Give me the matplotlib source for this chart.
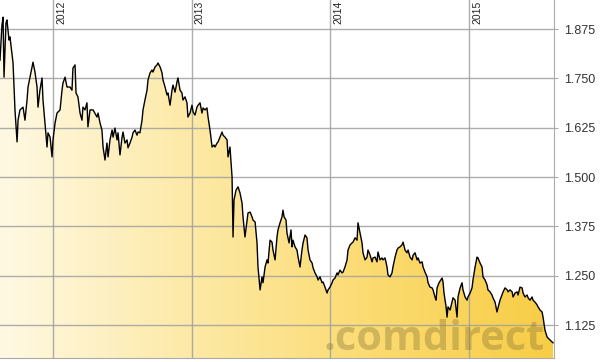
import matplotlib
matplotlib.use("Agg")
import matplotlib.pyplot as plt
import numpy as np
from matplotlib.colors import LinearSegmentedColormap

# Kursverlauf (Datum als Dezimaljahr, Kurs)
dates = [
    2011.618, 2011.632, 2011.640, 2011.647, 2011.661, 2011.668, 2011.683, 2011.690, 2011.705, 2011.712,
    2011.726, 2011.741, 2011.748, 2011.762, 2011.784, 2011.798, 2011.813, 2011.820, 2011.849, 2011.856,
    2011.870, 2011.885, 2011.892, 2011.906, 2011.921, 2011.928, 2011.942, 2011.957, 2011.964, 2011.979,
    2011.993, 2012.000, 2012.015, 2012.029, 2012.051, 2012.065, 2012.072, 2012.087, 2012.101, 2012.123,
    2012.137, 2012.144, 2012.159, 2012.166, 2012.180, 2012.195, 2012.209, 2012.216, 2012.231, 2012.245,
    2012.252, 2012.267, 2012.289, 2012.317, 2012.325, 2012.339, 2012.353, 2012.361, 2012.375, 2012.389,
    2012.397, 2012.411, 2012.426, 2012.433, 2012.447, 2012.462, 2012.469, 2012.483, 2012.498, 2012.505,
    2012.519, 2012.534, 2012.541, 2012.555, 2012.570, 2012.577, 2012.591, 2012.606, 2012.613, 2012.627,
    2012.642, 2012.649, 2012.663, 2012.678, 2012.685, 2012.700, 2012.714, 2012.721, 2012.736, 2012.750,
    2012.757, 2012.772, 2012.786, 2012.793, 2012.808, 2012.822, 2012.829, 2012.844, 2012.858, 2012.865,
    2012.880, 2012.894, 2012.901, 2012.916, 2012.930, 2012.937, 2012.952, 2012.966, 2012.973, 2012.988,
    2013.002, 2013.010, 2013.024, 2013.038, 2013.046, 2013.060, 2013.074, 2013.082, 2013.096, 2013.110,
    2013.118, 2013.132, 2013.147, 2013.161, 2013.168, 2013.183, 2013.190, 2013.204, 2013.219, 2013.226,
    2013.240, 2013.255, 2013.262, 2013.276, 2013.291, 2013.298, 2013.305, 2013.320, 2013.334, 2013.348,
    2013.363, 2013.370, 2013.384, 2013.399, 2013.406, 2013.421, 2013.435, 2013.442, 2013.457, 2013.471,
    2013.478, 2013.493, 2013.507, 2013.514, 2013.529, 2013.543, 2013.550, 2013.565, 2013.579, 2013.586,
    2013.601, 2013.615, 2013.622, 2013.637, 2013.651, 2013.658, 2013.666, 2013.680, 2013.687, 2013.702,
    2013.716, 2013.723, 2013.730, 2013.745, 2013.759, 2013.767, 2013.781, 2013.795, 2013.803, 2013.817,
    2013.831, 2013.839, 2013.853, 2013.868, 2013.875, 2013.889, 2013.904, 2013.911, 2013.925, 2013.940,
    2013.947, 2013.961, 2013.976, 2013.983, 2013.997, 2014.012, 2014.019, 2014.033, 2014.048, 2014.055,
    2014.069, 2014.084, 2014.091, 2014.105, 2014.120, 2014.127, 2014.142, 2014.156, 2014.163, 2014.178,
    2014.192, 2014.199, 2014.214, 2014.228, 2014.235, 2014.250, 2014.264, 2014.271, 2014.286, 2014.300,
    2014.307, 2014.322, 2014.336, 2014.343, 2014.358, 2014.372, 2014.379, 2014.394, 2014.408, 2014.415,
    2014.430, 2014.444, 2014.451, 2014.466, 2014.480, 2014.488, 2014.502, 2014.516, 2014.524, 2014.538,
    2014.552, 2014.560, 2014.574, 2014.589, 2014.596, 2014.610, 2014.625, 2014.632, 2014.646, 2014.661,
    2014.668, 2014.682, 2014.697, 2014.704, 2014.718, 2014.733, 2014.740, 2014.754, 2014.762, 2014.769,
    2014.783, 2014.805, 2014.812, 2014.819, 2014.834, 2014.841, 2014.848, 2014.863, 2014.877, 2014.884,
    2014.899, 2014.913, 2014.920, 2014.935, 2014.949, 2014.956, 2014.971, 2014.985, 2014.992, 2015.007,
    2015.021, 2015.028, 2015.043, 2015.057, 2015.064, 2015.079, 2015.093, 2015.100, 2015.115, 2015.129,
    2015.136, 2015.151, 2015.165, 2015.172, 2015.187, 2015.201, 2015.208, 2015.223, 2015.237, 2015.245,
    2015.259, 2015.274, 2015.281, 2015.295, 2015.310, 2015.317, 2015.331, 2015.346, 2015.353, 2015.367,
    2015.382, 2015.389, 2015.403, 2015.418, 2015.425, 2015.439, 2015.454, 2015.461, 2015.475, 2015.490,
    2015.497, 2015.511, 2015.526, 2015.533, 2015.547, 2015.562, 2015.569, 2015.583, 2015.598, 2015.605,
]
prices = [
    1.796, 1.885, 1.905, 1.753, 1.890, 1.898, 1.847, 1.855, 1.809, 1.789,
    1.670, 1.589, 1.644, 1.670, 1.677, 1.644, 1.695, 1.728, 1.779, 1.791,
    1.766, 1.728, 1.677, 1.720, 1.751, 1.695, 1.637, 1.576, 1.612, 1.601,
    1.551, 1.594, 1.637, 1.662, 1.670, 1.720, 1.738, 1.753, 1.728, 1.728,
    1.720, 1.776, 1.784, 1.713, 1.703, 1.662, 1.644, 1.677, 1.670, 1.688,
    1.627, 1.670, 1.670, 1.652, 1.662, 1.637, 1.619, 1.576, 1.543, 1.586,
    1.551, 1.594, 1.619, 1.601, 1.624, 1.594, 1.612, 1.556, 1.601, 1.614,
    1.586, 1.594, 1.574, 1.586, 1.601, 1.612, 1.619, 1.606, 1.614, 1.612,
    1.644, 1.670, 1.695, 1.720, 1.746, 1.764, 1.771, 1.766, 1.779, 1.784,
    1.789, 1.779, 1.764, 1.746, 1.728, 1.708, 1.713, 1.682, 1.720, 1.733,
    1.715, 1.741, 1.751, 1.720, 1.713, 1.695, 1.703, 1.688, 1.652, 1.662,
    1.682, 1.665, 1.657, 1.677, 1.682, 1.688, 1.662, 1.675, 1.670, 1.675,
    1.652, 1.619, 1.576, 1.581, 1.576, 1.586, 1.589, 1.601, 1.614, 1.606,
    1.601, 1.594, 1.551, 1.576, 1.500, 1.348, 1.442, 1.467, 1.475, 1.460,
    1.434, 1.399, 1.348, 1.391, 1.409, 1.411, 1.399, 1.391, 1.386, 1.333,
    1.272, 1.214, 1.247, 1.232, 1.272, 1.290, 1.282, 1.340, 1.335, 1.315,
    1.290, 1.348, 1.366, 1.384, 1.399, 1.416, 1.399, 1.391, 1.358, 1.333,
    1.366, 1.323, 1.340, 1.323, 1.315, 1.297, 1.272, 1.315, 1.333, 1.353,
    1.346, 1.315, 1.290, 1.282, 1.270, 1.257, 1.247, 1.239, 1.247, 1.232,
    1.234, 1.221, 1.206, 1.214, 1.221, 1.232, 1.239, 1.244, 1.257, 1.252,
    1.264, 1.257, 1.259, 1.272, 1.290, 1.315, 1.328, 1.333, 1.335, 1.346,
    1.340, 1.384, 1.358, 1.333, 1.308, 1.290, 1.297, 1.315, 1.302, 1.285,
    1.295, 1.297, 1.285, 1.310, 1.290, 1.295, 1.290, 1.295, 1.272, 1.252,
    1.247, 1.257, 1.272, 1.297, 1.315, 1.320, 1.323, 1.328, 1.335, 1.315,
    1.308, 1.315, 1.297, 1.290, 1.302, 1.308, 1.290, 1.295, 1.282, 1.285,
    1.272, 1.259, 1.247, 1.232, 1.221, 1.219, 1.214, 1.196, 1.188, 1.219,
    1.232, 1.244, 1.234, 1.206, 1.171, 1.145, 1.171, 1.163, 1.183, 1.194,
    1.188, 1.145, 1.196, 1.219, 1.232, 1.214, 1.196, 1.188, 1.196, 1.206,
    1.219, 1.239, 1.272, 1.297, 1.295, 1.282, 1.272, 1.247, 1.239, 1.227,
    1.214, 1.209, 1.201, 1.194, 1.183, 1.158, 1.168, 1.188, 1.201, 1.209,
    1.219, 1.214, 1.209, 1.214, 1.209, 1.196, 1.206, 1.209, 1.201, 1.221,
    1.219, 1.206, 1.196, 1.201, 1.194, 1.188, 1.196, 1.188, 1.183, 1.176,
    1.171, 1.163, 1.158, 1.145, 1.112, 1.095, 1.092, 1.087, 1.082, 1.080,
]
year_ticks = [2012, 2013, 2014, 2015]
price_ticks = [1.125, 1.250, 1.375, 1.500, 1.625, 1.750, 1.875]

x_min, x_max = 2011.618, 2015.612
y_min, y_max = 1.0414, 1.9485

fig = plt.figure(figsize=(6, 3.62), dpi=100)
ax = fig.add_axes([0, 4 / 362, 554 / 600, 358 / 362])
ax.set_xlim(x_min, x_max)
ax.set_ylim(y_min, y_max)

# Flaeche mit horizontalem Farbverlauf
poly = ax.fill_between(dates, prices, y_min, facecolor="none", edgecolor="none")
cmap = LinearSegmentedColormap.from_list("gold", ["#fff9e4", "#fdeaa8", "#fbdb72", "#f8cd45"])
grad = np.linspace(0, 1, 256).reshape(1, -1)
im = ax.imshow(grad, cmap=cmap, extent=[x_min, x_max, y_min, y_max],
               aspect="auto", origin="lower", zorder=1)
im.set_clip_path(poly.get_paths()[0], transform=ax.transData)

ax.plot(dates, prices, color="black", linewidth=1.0, zorder=4)

# Wasserzeichen
fig.text(545 / 600, 12 / 362, ".comdirect", fontsize=30, fontweight="bold",
         family="Open Sans", color="#8a7638", alpha=0.38, ha="right", va="baseline",
         zorder=5)

ax.set_xticks(year_ticks)
ax.set_xticklabels([])
ax.tick_params(axis="x", length=0)
ax.set_yticks(price_ticks)
ax.set_yticklabels([f"{p:.3f}" for p in price_ticks])
ax.yaxis.tick_right()
ax.tick_params(axis="y", length=3, color="#aaaaaa", pad=4, labelsize=9,
               labelcolor="#333333")
for lbl in ax.get_yticklabels():
    lbl.set_family("Liberation Sans")

ax.set_axisbelow(False)
ax.grid(True, color="#a0a0a0", linewidth=1.0, alpha=0.85)
for g in ax.get_xgridlines() + ax.get_ygridlines():
    g.set_zorder(2)

for yr in year_ticks:
    ax.annotate(str(yr), xy=(yr, 1), xycoords=("data", "axes fraction"),
                xytext=(3, -24), textcoords="offset pixels", rotation=90,
                ha="left", va="bottom", fontsize=7.5, color="#222222",
                family="Liberation Sans")

for side in ["left", "top"]:
    ax.spines[side].set_visible(False)
ax.spines["right"].set_color("#aaaaaa")
ax.spines["bottom"].set_color("#aaaaaa")

fig.savefig("out.png", dpi=100)
